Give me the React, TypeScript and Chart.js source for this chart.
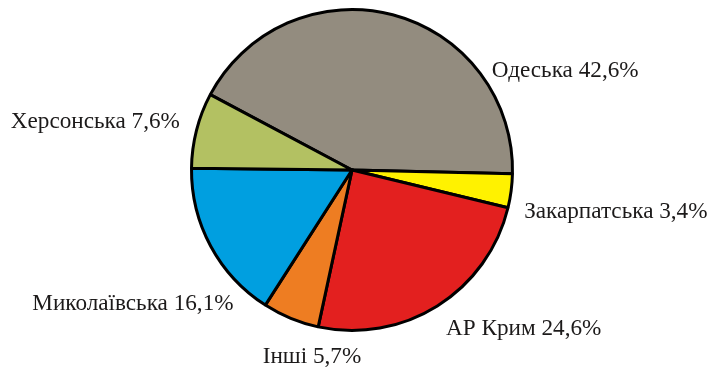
import React, { useEffect, useRef } from "react";
import { Chart, registerables } from "chart.js";

Chart.register(...registerables);

const regions = ["Одеська", "Закарпатська", "АР Крим", "Інші", "Миколаївська", "Херсонська"];
const shares = [42.6, 3.4, 24.6, 5.7, 16.1, 7.6];
const shareLabels = ["42,6%", "3,4%", "24,6%", "5,7%", "16,1%", "7,6%"];
const sliceColors = ["#938c7f", "#fff200", "#e3201f", "#ee7d22", "#009fe0", "#b3c162"];

// label anchor relative to pie centre, in units of radius
const labelLayout: { dx: number; dy: number; align: CanvasTextAlign }[] = [
  { dx: 0.8625, dy: -0.61, align: "left" },
  { dx: 1.0625, dy: 0.256, align: "left" },
  { dx: 0.581, dy: 0.981, align: "left" },
  { dx: -0.247, dy: 1.156, align: "center" },
  { dx: -0.731, dy: 0.825, align: "right" },
  { dx: -1.0625, dy: -0.294, align: "right" },
];

const outsideLabels = {
  id: "outsideLabels",
  afterDatasetsDraw(chart: any) {
    const meta = chart.getDatasetMeta(0);
    const ctx = chart.ctx;
    const first = meta.data[0];
    if (!first) return;
    const cx = first.x;
    const cy = first.y;
    const r = first.outerRadius + 1.5;
    ctx.save();
    ctx.font = '23.2px "Liberation Serif", "Times New Roman", serif';
    ctx.fillStyle = "#1c1a1a";
    ctx.textBaseline = "middle";
    regions.forEach((name, i) => {
      const l = labelLayout[i];
      ctx.textAlign = l.align;
      ctx.fillText(`${name} ${shareLabels[i]}`, cx + l.dx * r, cy + l.dy * r);
    });
    ctx.restore();
  },
};

export default function App() {
  const ref = useRef<HTMLCanvasElement | null>(null);
  useEffect(() => {
    if (!ref.current) return;
    const chart = new Chart(ref.current, {
      type: "pie",
      data: {
        labels: regions,
        datasets: [
          {
            data: shares,
            backgroundColor: sliceColors,
            borderColor: "#000000",
            borderWidth: 3,
            hoverOffset: 0,
          },
        ],
      },
      options: {
        responsive: false,
        animation: false,
        rotation: -62,
        layout: { padding: { top: 8, bottom: 38, left: 0, right: 9 } },
        plugins: {
          legend: { display: false },
          tooltip: { enabled: false },
        },
      },
      plugins: [outsideLabels],
    });
    return () => chart.destroy();
  }, []);
  return (
    <div style={{ position: "absolute", left: 0, top: 0, width: 713, height: 370, background: "#ffffff" }}>
      <canvas ref={ref} width={713} height={370} style={{ display: "block" }} />
    </div>
  );
}
